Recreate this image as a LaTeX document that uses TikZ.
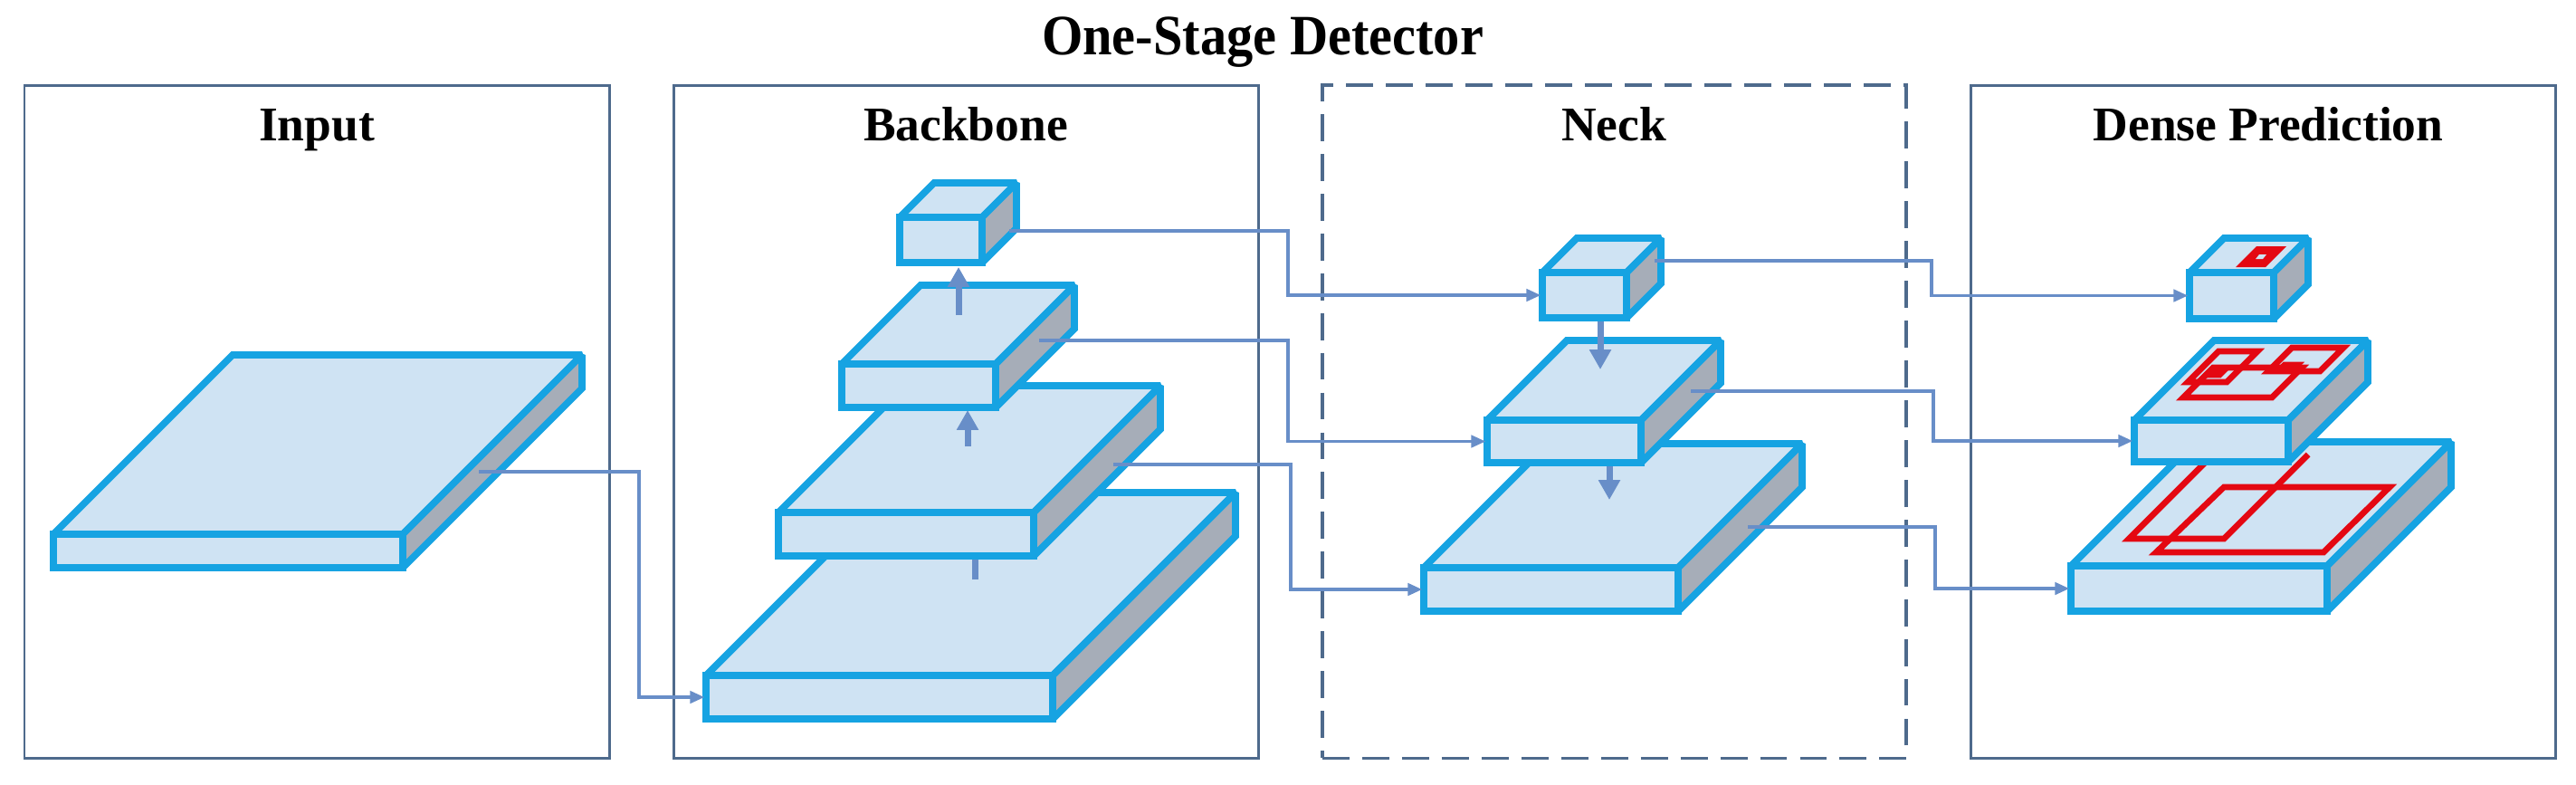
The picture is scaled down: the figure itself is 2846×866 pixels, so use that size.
\documentclass[tikz,border=0pt]{standalone}
\usepackage{fontspec}
\setmainfont{Liberation Serif}
\usetikzlibrary{arrows.meta}
\definecolor{cyanline}{RGB}{22,163,226}
\definecolor{slabfill}{RGB}{207,227,243}
\definecolor{slabgray}{RGB}{166,173,184}
\definecolor{connblue}{RGB}{104,142,200}
\definecolor{framecol}{RGB}{78,106,140}
\definecolor{redcol}{RGB}{228,8,18}
\newcommand\drawslab[6]{% name, x, y (front top-left), w, h, d
  \path[slabtop] (#2,#3) -- ++(#4,0) -- ++(#6,-#6) -- ++(-#4,0) -- cycle;
  \path[slabsidef] (#2+#4,#3) -- ++(#6,-#6) -- ++(0,#5) -- ++(-#6,#6) -- cycle;
  \node[slabfront, minimum width=#4*0.01cm, minimum height=#5*0.01cm, anchor=north west] (#1) at (#2,#3) {};
}
\begin{document}
\begin{tikzpicture}[x=0.01cm,y=-0.01cm,
  slabline/.style={draw=cyanline, line width=2.2pt, miter limit=2},
  slabtop/.style={slabline, fill=slabfill},
  slabsidef/.style={slabline, fill=slabgray},
  slabfront/.style={rectangle, slabline, fill=slabfill, inner sep=0pt, outer sep=0pt},
  panel/.style={rectangle, draw=framecol, line width=0.85pt, inner sep=0pt, outer sep=0pt, anchor=north west, minimum width=6.46cm, minimum height=7.43cm},
  dpanel/.style={panel, line width=1.1pt, dash pattern=on 8.5pt off 4pt},
  link/.style={draw=connblue, line width=0.95pt, -{Triangle[length=4.5pt,width=3.8pt]}, shorten >=0.5pt},
  flow/.style={draw=connblue, line width=2pt, -{Triangle[length=6.2pt,width=6.5pt]}},
  redline/.style={draw=redcol, line width=1.9pt},
  paneltitle/.style={font=\bfseries\fontsize{15.2pt}{18pt}\selectfont, anchor=base, inner sep=0pt},
  maintitle/.style={font=\bfseries\fontsize{16.6pt}{20pt}\selectfont, anchor=base, inner sep=0pt}
]
\useasboundingbox (0,0) rectangle (2846,866);
\fill[white] (0,0) rectangle (2846,866);

% panels
\node[panel] (pinput) at (27,94) {};
\node[panel] (pback) at (744,94) {};
\node[dpanel, minimum width=6.45cm] (pneck) at (1461,94) {};
\node[panel] (pdense) at (2177,94) {};

% titles
\node[maintitle] (ttl) at (1395,60) {\scalebox{1}[1.08]{One-Stage Detector}};
\node[paneltitle] (tin) at (350,155) {Input};
\node[paneltitle] (tbb) at (1067,155) {Backbone};
\node[paneltitle] (tnk) at (1783,155) {Neck};
\node[paneltitle] (tdp) at (2506,155) {Dense Prediction};

% input
\drawslab{inp}{59}{590}{386}{37}{198}

% backbone
\drawslab{bb1}{780}{746}{383}{48}{202}
\coordinate (f12s) at (1077,640);
\coordinate (f12e) at (1077,590);
\draw[flow] (f12s) -- (f12e);
\drawslab{bb2}{860}{566}{282}{48}{140}
\coordinate (f23s) at (1069,493);
\coordinate (f23e) at (1069,453);
\draw[flow] (f23s) -- (f23e);
\drawslab{bb3}{930}{402}{170}{48}{87}
\coordinate (f34s) at (1059,348);
\coordinate (f34e) at (1059,295);
\draw[flow] (f34s) -- (f34e);
\drawslab{bb4}{994}{240}{91}{50}{38}

% neck
\drawslab{nk3}{1573}{627}{281}{48}{137}
\coordinate (g23s) at (1778,513);
\coordinate (g23e) at (1778,552);
\draw[flow] (g23s) -- (g23e);
\drawslab{nk2}{1643}{464}{170}{47}{88}
\coordinate (g12s) at (1768,353);
\coordinate (g12e) at (1768,408);
\draw[flow] (g12s) -- (g12e);
\drawslab{nk1}{1704}{301}{93}{50}{38}

% dense prediction
\drawslab{ds3}{2288}{625}{283}{50}{137}
\draw[redline] (2460,487) -- (2352,595) -- (2457,595) -- (2550,502);
\draw[redline] (2382,610) -- (2567,610) -- (2640,538) -- (2457,538) -- cycle;
\drawslab{ds2}{2358}{464}{170}{46}{88}
\draw[redline] (2412,439) -- (2510,439) -- (2543,406) -- (2445,406) -- cycle;
\draw[redline] (2506,410) -- (2563,410) -- (2589,384) -- (2532,384) -- cycle;
\draw[redline] (2417,422) -- (2460,422) -- (2494,388) -- (2451,388) -- cycle;
\draw[redline] (2442,414) -- (2452,414) -- (2459,407) -- (2449,407) -- cycle;
\draw[redline] (2520,407) -- (2534,407) -- (2538,403) -- (2524,403) -- cycle;
\drawslab{ds1}{2419}{301}{93}{51}{38}
\fill[redcol] (2470,295) -- (2503,295) -- (2526,272) -- (2493,272) -- cycle;
\fill[slabfill] (2492,286) -- (2500,286) -- (2504,281) -- (2496,281) -- cycle;

% connectors
\coordinate (in-out) at (529,521);
\coordinate (bb4-out) at (1115,255);
\coordinate (bb3-out) at (1148,376);
\coordinate (bb2-out) at (1230,513);
\coordinate (nk1-out) at (1828,288);
\coordinate (nk2-out) at (1868,432);
\coordinate (nk3-out) at (1931,582);
\coordinate (v0) at (706,0);
\coordinate (v1) at (1423,0);
\coordinate (v2) at (1423,0);
\coordinate (v3) at (1426,0);
\coordinate (w1) at (2134,0);
\coordinate (w2) at (2136,0);
\coordinate (w3) at (2138,0);
\draw[link] (in-out) -- (in-out -| v0) |- (bb1.west);
\draw[link] (bb4-out) -- (bb4-out -| v1) |- (nk1.west);
\draw[link] (bb3-out) -- (bb3-out -| v2) |- (nk2.west);
\draw[link] (bb2-out) -- (bb2-out -| v3) |- (nk3.west);
\draw[link] (nk1-out) -- (nk1-out -| w1) |- (ds1.west);
\draw[link] (nk2-out) -- (nk2-out -| w2) |- (ds2.west);
\draw[link] (nk3-out) -- (nk3-out -| w3) |- (ds3.west);
\end{tikzpicture}
\end{document}
